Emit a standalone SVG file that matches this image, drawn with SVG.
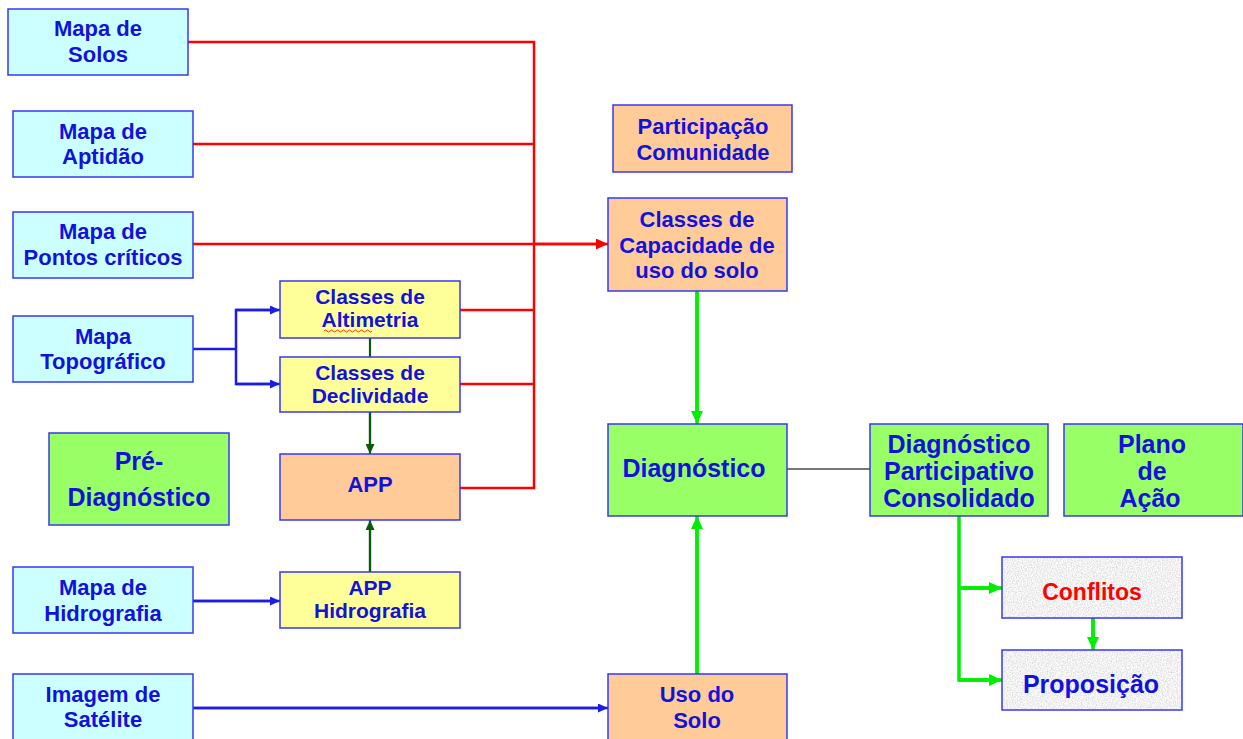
<svg xmlns="http://www.w3.org/2000/svg" width="1243" height="739" viewBox="0 0 1243 739">
<style>
text{font-family:"Liberation Sans",Arial,sans-serif;font-weight:bold;fill:#1212dc;text-anchor:middle;font-size:22px}
.big{font-size:25px}
.sm{font-size:21px}
.box{stroke:#3838f0;stroke-width:1.5}
.cyan{fill:#ccffff}
.yel{fill:#ffff99}
.org{fill:#ffcc99}
.grn{fill:#99ff66}
.red{stroke:#ff0000;stroke-width:2.5;fill:none}
.blu{stroke:#1c1ce8;stroke-width:2.5;fill:none}
.dg{stroke:#0a5a0a;stroke-width:2.2;fill:none}
.lg{stroke:#00ee00;stroke-width:3.5;fill:none}
</style>
<defs>
<filter id="noise" x="0" y="0" width="100%" height="100%">
<feTurbulence type="fractalNoise" baseFrequency="0.8" numOctaves="2" seed="3" result="t"/>
<feColorMatrix in="t" type="matrix" values="0.6 0 0 0 0.58  0.6 0 0 0 0.58  0.6 0 0 0 0.58  0 0 0 0 1" result="g"/>
<feComposite in="g" in2="SourceGraphic" operator="in"/>
</filter>
<marker id="aR" viewBox="0 0 12 11" refX="12" refY="5.5" markerWidth="12" markerHeight="11" orient="auto" markerUnits="userSpaceOnUse"><path d="M0,0L12,5.5L0,11z" fill="#ff0000"/></marker>
<marker id="aB" viewBox="0 0 10 9" refX="10" refY="4.5" markerWidth="10" markerHeight="9" orient="auto" markerUnits="userSpaceOnUse"><path d="M0,0L10,4.5L0,9z" fill="#1c1ce8"/></marker>
<marker id="aDG" viewBox="0 0 10 9" refX="10" refY="4.5" markerWidth="10" markerHeight="9" orient="auto" markerUnits="userSpaceOnUse"><path d="M0,0L10,4.5L0,9z" fill="#0a5a0a"/></marker>
<marker id="aLG" viewBox="0 0 13 12" refX="13" refY="6" markerWidth="13" markerHeight="12" orient="auto" markerUnits="userSpaceOnUse"><path d="M0,0L13,6L0,12z" fill="#00ee00"/></marker>
</defs>
<rect width="1243" height="739" fill="#ffffff"/>

<g id="connectors">
<path class="red" d="M188,42H534V488H460"/>
<path class="red" d="M193,144H534"/>
<path class="red" d="M460,310H534"/>
<path class="red" d="M460,384H534"/>
<path class="red" d="M193,244H534"/>
<path class="red" d="M534,244H600" stroke-width="3"/>
<path class="red" d="M534,244H608" stroke-width="0" marker-end="url(#aR)"/>
<path class="blu" d="M193,349H236"/>
<path class="blu" d="M236,349V310H275"/>
<path class="blu" d="M236,349V384H275"/>
<path class="blu" d="M193,601H275"/>
<path class="blu" d="M193,708H603"/>
<path class="blu" d="M236,310H280" stroke-width="0" marker-end="url(#aB)"/>
<path class="blu" d="M236,384H280" stroke-width="0" marker-end="url(#aB)"/>
<path class="blu" d="M193,601H280" stroke-width="0" marker-end="url(#aB)"/>
<path class="blu" d="M193,708H608" stroke-width="0" marker-end="url(#aB)"/>
<path class="dg" d="M370,338V357"/>
<path class="dg" d="M370,412V448"/>
<path class="dg" d="M370,412V454" stroke-width="0" marker-end="url(#aDG)"/>
<path class="dg" d="M370,572V526"/>
<path class="dg" d="M370,572V520" stroke-width="0" marker-end="url(#aDG)"/>
<path class="lg" d="M697,291V414"/>
<path class="lg" d="M697,291V424" stroke-width="0" marker-end="url(#aLG)"/>
<path class="lg" d="M697,674V526"/>
<path class="lg" d="M697,674V516" stroke-width="0" marker-end="url(#aLG)"/>
<path d="M787,469H870" stroke="#4a4a4a" stroke-width="1.5" fill="none"/>
<path class="lg" d="M959,516V680H992"/>
<path class="lg" d="M959,588H992"/>
<path class="lg" d="M959,588H1002" stroke-width="0" marker-end="url(#aLG)"/>
<path class="lg" d="M959,680H1002" stroke-width="0" marker-end="url(#aLG)"/>
<path class="lg" d="M1093,618V640"/>
<path class="lg" d="M1093,618V650" stroke-width="0" marker-end="url(#aLG)"/>
</g>

<g id="mapa-solos"><rect class="box cyan" x="8" y="9" width="180" height="66"/><text x="98" y="36">Mapa de</text><text x="98" y="62">Solos</text></g>
<g id="mapa-aptidao"><rect class="box cyan" x="13" y="111" width="180" height="66"/><text x="103" y="139">Mapa de</text><text x="103" y="164">Aptidão</text></g>
<g id="mapa-pontos"><rect class="box cyan" x="13" y="212" width="180" height="66"/><text x="103" y="239">Mapa de</text><text x="103" y="265">Pontos críticos</text></g>
<g id="mapa-topografico"><rect class="box cyan" x="13" y="316" width="180" height="66"/><text x="103" y="344">Mapa</text><text x="103" y="369">Topográfico</text></g>
<g id="pre-diagnostico"><rect class="box grn" x="49" y="433" width="180" height="92"/><text class="big" x="139" y="470">Pré-</text><text class="big" x="139" y="506">Diagnóstico</text></g>
<g id="mapa-hidrografia"><rect class="box cyan" x="13" y="567" width="180" height="66"/><text x="103" y="595">Mapa de</text><text x="103" y="621">Hidrografia</text></g>
<g id="imagem-satelite"><rect class="box cyan" x="13" y="674" width="180" height="70"/><text x="103" y="702">Imagem de</text><text x="103" y="727">Satélite</text></g>

<g id="classes-altimetria"><rect class="box yel" x="280" y="281" width="180" height="57"/><text class="sm" x="370" y="304">Classes de</text><text class="sm" x="370" y="327">Altimetria</text>
<path d="M324,331q1.5,-2 3,0t3,0t3,0t3,0t3,0t3,0t3,0t3,0t3,0t3,0t3,0t3,0t3,0t3,0t3,0t3,0" stroke="#ff0000" stroke-width="0.8" fill="none"/></g>
<g id="classes-declividade"><rect class="box yel" x="280" y="357" width="180" height="55"/><text class="sm" x="370" y="380">Classes de</text><text class="sm" x="370" y="403">Declividade</text></g>
<g id="app"><rect class="box org" x="280" y="454" width="180" height="66"/><text x="370" y="492">APP</text></g>
<g id="app-hidrografia"><rect class="box yel" x="280" y="572" width="180" height="56"/><text class="sm" x="370" y="595">APP</text><text class="sm" x="370" y="618">Hidrografia</text></g>

<g id="participacao"><rect class="box org" x="613" y="105" width="179" height="67"/><text x="703" y="134">Participação</text><text x="703" y="160">Comunidade</text></g>
<g id="classes-capacidade"><rect class="box org" x="608" y="198" width="179" height="93"/><text x="697" y="227">Classes de</text><text x="697" y="253">Capacidade de</text><text x="697" y="278">uso do solo</text></g>
<g id="diagnostico"><rect class="box grn" x="608" y="424" width="179" height="92"/><text class="big" x="694" y="477">Diagnóstico</text></g>
<g id="uso-solo"><rect class="box org" x="608" y="674" width="179" height="70"/><text x="697" y="702">Uso do</text><text x="697" y="728">Solo</text></g>
<g id="diagnostico-participativo"><rect class="box grn" x="870" y="424" width="178" height="92"/><text class="big" x="959" y="453">Diagnóstico</text><text class="big" x="959" y="480">Participativo</text><text class="big" x="959" y="507">Consolidado</text></g>
<g id="plano-acao"><rect class="box grn" x="1064" y="424" width="179" height="92"/><text class="big" x="1152" y="453">Plano</text><text class="big" x="1152" y="480">de</text><text class="big" x="1150" y="507">Ação</text></g>
<g id="conflitos"><rect x="1002" y="557" width="180" height="61" fill="#eeeeee" filter="url(#noise)"/><rect class="box" x="1002" y="557" width="180" height="61" fill="none"/><text x="1092" y="600" style="fill:#ff0000;font-size:23px">Conflitos</text></g>
<g id="proposicao"><rect x="1002" y="650" width="180" height="60" fill="#eeeeee" filter="url(#noise)"/><rect class="box" x="1002" y="650" width="180" height="60" fill="none"/><text class="big" x="1091" y="693">Proposição</text></g>
</svg>
